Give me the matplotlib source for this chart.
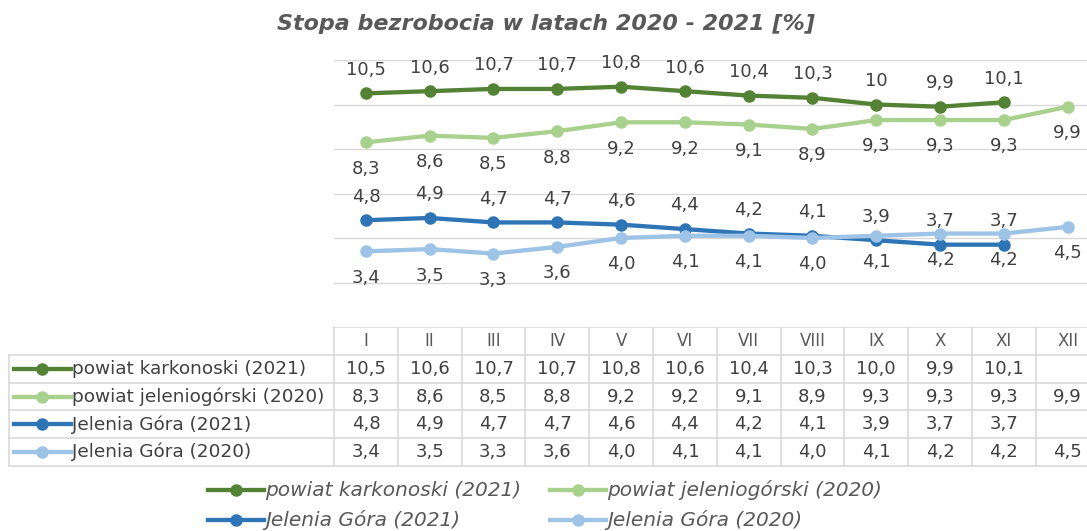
import matplotlib.pyplot as plt
import numpy as np

months = ["I", "II", "III", "IV", "V", "VI", "VII", "VIII", "IX", "X", "XI", "XII"]
names = ["powiat karkonoski (2021)", "powiat jeleniogórski (2020)",
         "Jelenia Góra (2021)", "Jelenia Góra (2020)"]
karkonoski_2021 = [10.5, 10.6, 10.7, 10.7, 10.8, 10.6, 10.4, 10.3, 10.0, 9.9, 10.1, np.nan]
jeleniogorski_2020 = [8.3, 8.6, 8.5, 8.8, 9.2, 9.2, 9.1, 8.9, 9.3, 9.3, 9.3, 9.9]
jg_2021 = [4.8, 4.9, 4.7, 4.7, 4.6, 4.4, 4.2, 4.1, 3.9, 3.7, 3.7, np.nan]
jg_2020 = [3.4, 3.5, 3.3, 3.6, 4.0, 4.1, 4.1, 4.0, 4.1, 4.2, 4.2, 4.5]

series = [karkonoski_2021, jeleniogorski_2020, jg_2021, jg_2020]
colors = ["#548235", "#a9d18e", "#2e75b6", "#9dc3e6"]
label_side = [1, -1, 1, -1]
label_fmt = ["g", ".1f", ".1f", ".1f"]

TXT = "#404040"
GRID = "#d9d9d9"
W, H = 1087, 531


def pl(v, fmt=".1f"):
    return format(v, fmt).replace(".", ",")


fig = plt.figure(figsize=(W / 100, H / 100), dpi=100)
plt.rcParams['font.family'] = ['DejaVu Sans']

# layout in pixels
col0, cw = 334, 63.8
y_top, y_zero = 60, 327
row_h = 27.8

ax = fig.add_axes([col0 / W, (H - y_zero) / H, (W - col0) / W, (y_zero - y_top) / H])
x = np.arange(len(months))
ax.set_xlim(-0.5, -0.5 + (W - col0) / cw)
ax.set_ylim(0, 12)
ax.set_yticks(range(2, 13, 2))
ax.grid(axis="y", color=GRID, lw=1)
ax.tick_params(left=False, bottom=False, labelleft=False, labelbottom=False)
for s in ax.spines.values():
    s.set_visible(False)
ax.set_axisbelow(True)

for vals, c, side, fmt in zip(series, colors, label_side, label_fmt):
    ax.plot(x, vals, color=c, lw=3.1, marker="o", ms=8, solid_capstyle="round")
    for xi, v in zip(x, vals):
        if np.isnan(v):
            continue
        ax.annotate(pl(v, fmt), (xi, v), xytext=(0, 17 if side > 0 else -19),
                    textcoords="offset points", ha="center", va="center",
                    fontsize=13, color=TXT, annotation_clip=False)

# overlay in pixel coordinates for title, data table and legend
ov = fig.add_axes([0, 0, 1, 1], zorder=-1)
ov.set_xlim(0, W)
ov.set_ylim(H, 0)
ov.axis("off")

ov.text(546, 24, "Stopa bezrobocia w latach 2020 - 2021 [%]", ha="center", va="center",
        fontsize=16, fontweight="bold", fontstyle="italic", color="#595959")

n = len(months)
right = col0 + n * cw
# header row
for i, m in enumerate(months):
    ov.text(col0 + (i + 0.5) * cw, y_zero + row_h / 2, m, ha="center", va="center",
            fontsize=12, color="#595959")
ov.plot([col0, right], [y_zero, y_zero], color=GRID, lw=1.2)
for k in range(len(series) + 1):
    yy = y_zero + row_h * (k + 1)
    ov.plot([9, right], [yy, yy], color=GRID, lw=1.2)
for i in range(n + 1):
    ov.plot([col0 + i * cw] * 2, [y_zero, y_zero + row_h * 5], color=GRID, lw=1.2)
ov.plot([9, 9], [y_zero + row_h, y_zero + row_h * 5], color=GRID, lw=1.2)

for k, (vals, c, name) in enumerate(zip(series, colors, names)):
    yc = y_zero + row_h * (k + 1.5)
    ov.plot([14, 71], [yc, yc], color=c, lw=3.1)
    ov.plot([42], [yc], "o", color=c, ms=8)
    ov.text(72, yc, name, ha="left", va="center", fontsize=13.3, color=TXT)
    for i, v in enumerate(vals):
        if np.isnan(v):
            continue
        ov.text(col0 + (i + 0.5) * cw, yc, pl(v), ha="center", va="center",
                fontsize=13, color=TXT)

# legend below the table
leg_pos = [(208, 490), (550, 490), (208, 520), (550, 520)]
for (lx, ly), c, name in zip(leg_pos, colors, names):
    ov.plot([lx, lx + 56], [ly, ly], color=c, lw=3.1)
    ov.plot([lx + 28], [ly], "o", color=c, ms=8)
    ov.text(lx + 57, ly, name, ha="left", va="center", fontsize=14.5,
            fontstyle="italic", color="#595959")

fig.savefig("out.png", dpi=100)
